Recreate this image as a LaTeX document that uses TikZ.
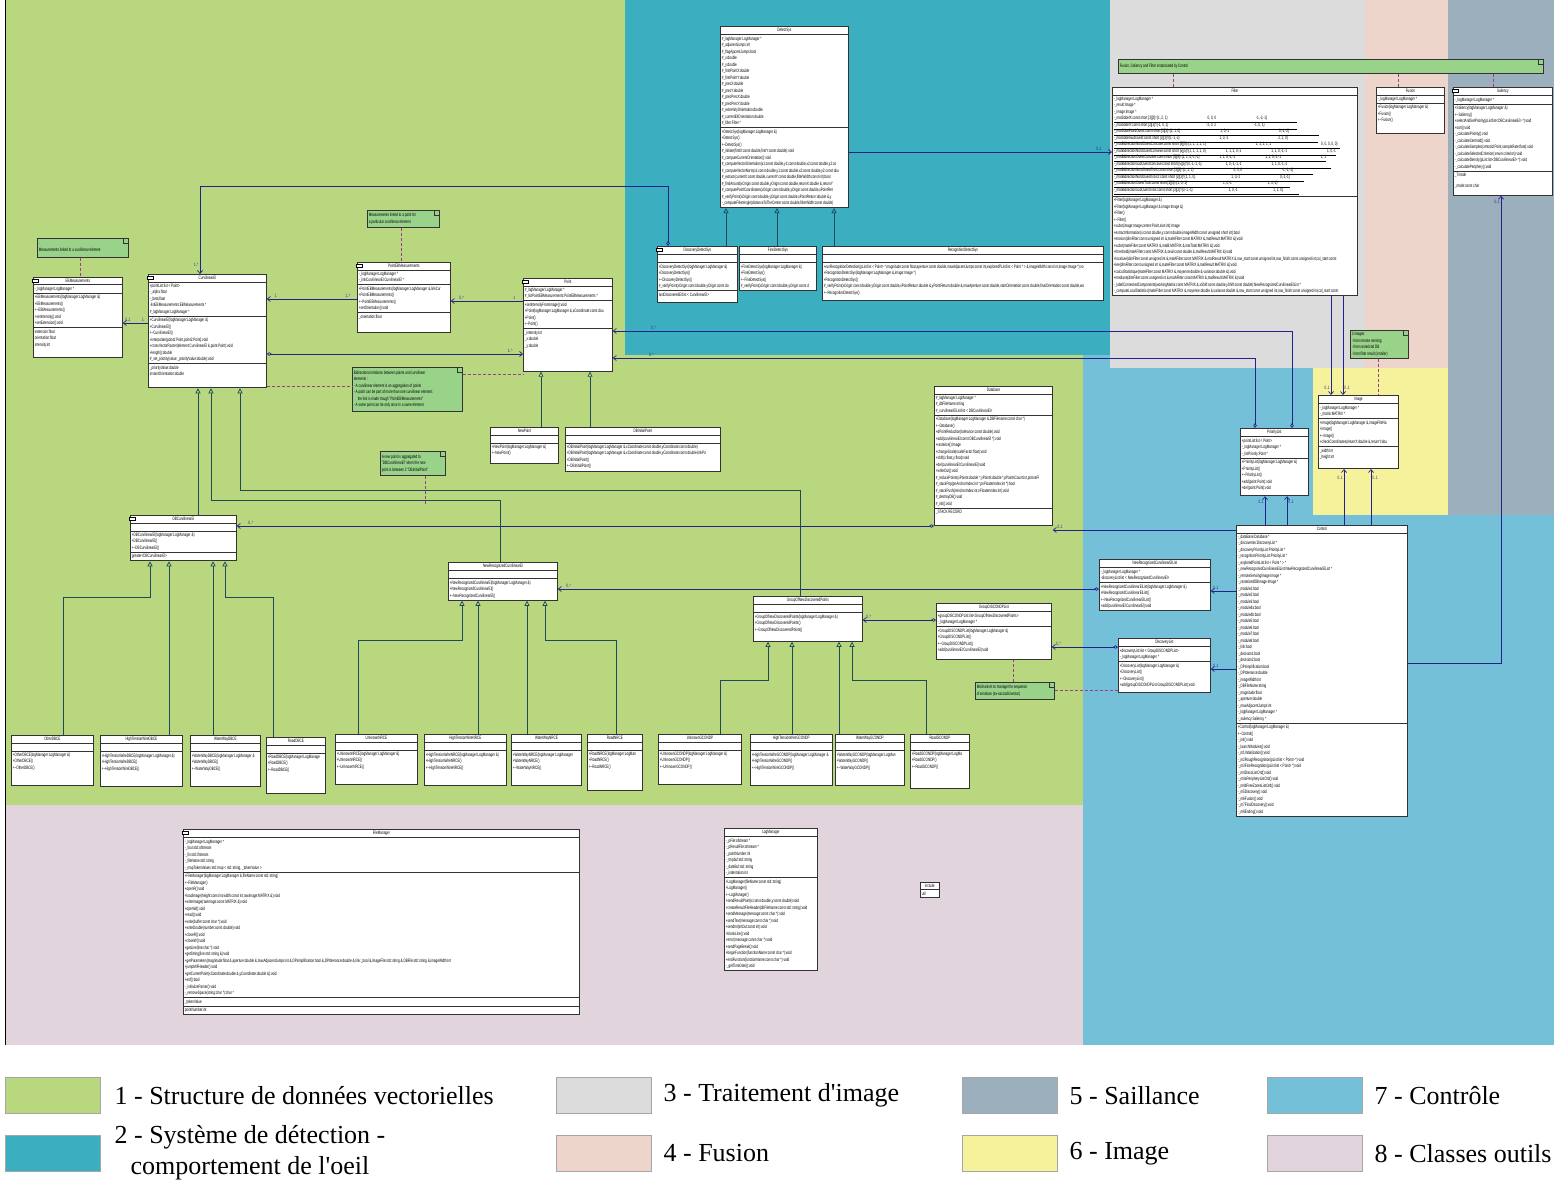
\documentclass[tikz,border=0pt]{standalone}
\usepackage{fontspec}
\setmainfont{Liberation Sans}
\newfontfamily\umlfont[FakeStretch=0.64]{Liberation Sans}
\newfontfamily\legendfont{Liberation Serif}
\usetikzlibrary{arrows.meta,positioning,shapes.multipart}

\definecolor{vecgreen}{HTML}{B9D77F}
\definecolor{detteal}{HTML}{3BAEC0}
\definecolor{imggrey}{HTML}{DCDCDC}
\definecolor{fuspink}{HTML}{EED5CB}
\definecolor{salslate}{HTML}{9BAFBC}
\definecolor{imgyellow}{HTML}{F6F29B}
\definecolor{ctrlblue}{HTML}{75C0D9}
\definecolor{toolmauve}{HTML}{E2D4DC}
\definecolor{notegreen}{HTML}{99D38A}
\definecolor{navy}{HTML}{22228C}
\definecolor{inhline}{HTML}{1E4A5A}
\definecolor{notelink}{HTML}{9E3D86}

\newcommand\umlsize{\umlfont\fontsize{4.8}{6.5}\selectfont}
\newcommand\dtor{\textasciitilde}
\newcommand\ctitle[2]{\makebox[#1][c]{#2}}
\newcommand\nline[2]{\makebox[#1][l]{#2}}

\begin{document}
\catcode`\_=12
\begin{tikzpicture}[x=1pt, y=-1pt,
    cls/.style    = {draw=black!80, fill=white, line width=0.8pt,
                     rectangle split, rectangle split parts=3,
                     rectangle split part align={center,left,left,left,left},
                     align=left, font=\umlsize, inner xsep=1.5pt, inner ysep=1.6pt,
                     anchor=north west},
    icn/.style    = {draw=black, fill=white, line width=0.9pt,
                     minimum width=6pt, minimum height=3.5pt, inner sep=0pt},
    note/.style   = {draw=black!80, fill=notegreen, line width=0.6pt, align=left,
                     font=\umlsize, anchor=north west, inner sep=1.5pt,
                     path picture={\draw[line width=0.5pt]
                       ([xshift=-5pt]path picture bounding box.north east) |-
                       ([yshift=-5pt]path picture bounding box.north east);}},
    assoc/.style  = {draw=navy, line width=0.7pt, -{Straight Barb[length=3pt,width=5pt]}},
    aggr/.style   = {draw=navy, line width=0.7pt,
                     {Diamond[open,length=5pt,width=3.5pt]}-{Straight Barb[length=3pt,width=5pt]}},
    inh/.style    = {draw=inhline, line width=0.7pt, -{Triangle[open,length=5pt,width=5pt]}},
    lnk/.style    = {draw=notelink, line width=0.8pt, dash pattern=on 3pt off 2pt},
    mult/.style   = {font=\umlsize, text=navy, inner sep=1pt},
    swatch/.style = {draw=gray!70, minimum width=95pt, minimum height=36pt,
                     anchor=north west, inner sep=0pt},
    lgd/.style    = {font=\legendfont\fontsize{26}{31}\selectfont, anchor=west, inner sep=0pt}
  ]
  \useasboundingbox (0,0) rectangle (1554,1188);

  %–––– package areas ––––
  \fill[vecgreen]  (5,0)    rectangle (1083,805);
  \fill[ctrlblue]  (1083,355) rectangle (1554,1045);
  \fill[detteal]   (625,0)  rectangle (1110,355);
  \fill[imggrey]   (1110,0) rectangle (1365,368);
  \fill[fuspink]   (1365,0) rectangle (1448,368);
  \fill[imgyellow] (1313,368) rectangle (1448,515);
  \fill[salslate]  (1448,0) rectangle (1554,515);
  \fill[toolmauve] (5,805)  rectangle (1083,1045);
  \draw[line width=1pt] (5,1045) -- (5,0);

  %–––– vector data structure ––––
  \node[cls, rectangle split parts=4] (EBMeasurements) at (33,277)
    {\ctitle{86pt}{EBMeasurements}
     \nodepart{two} -_logManager:LogManager *
     \nodepart{three} +EBMeasurements(logManager:LogManager \&)\\+EBMeasurements()\\+\dtor EBMeasurements()\\+setIntensity():void\\+setExtension():void
     \nodepart{four} extension:float\\orientation:float\\intensity:int\rule[-9pt]{0pt}{0pt}};

  \node[cls, rectangle split parts=4] (CurvilinearEl) at (148,274)
    {\ctitle{115pt}{CurvilinearEl}
     \nodepart{two} +pointList:list < Point>\\-_alpha:float\\-_beta:float\\-listEBMeasurements:EBMeasurements *\\\#_logManager:LogManager *
     \nodepart{three} +CurvilinearEl(logManager:LogManager \&)\\+CurvilinearEl()\\+\dtor CurvilinearEl()\\+interpolate(point1:Point,point2:Point):void\\+crossVectorRaster(element:CurvilinearEl \&,point:Point):void\\+length():double\\\#_set_priority(value:_priorityValue:double):void
     \nodepart{four} _priorityValue:double\\instantOrientation:double\rule[-10pt]{0pt}{0pt}};

  \node[cls, rectangle split parts=4] (PointEBMeasurements) at (357,262)
    {\ctitle{90pt}{PointEBMeasurements}
     \nodepart{two} -_logManager:LogManager *\\-_linkCurvilinearEl:CurvilinearEl *
     \nodepart{three} +PointEBMeasurements(logManager:LogManager \&,linkCur\\+PointEBMeasurements()\\+\dtor PointEBMeasurements()\\+setOrientation():void
     \nodepart{four} _orientation:float\rule[-12pt]{0pt}{0pt}};

  \node[cls, rectangle split parts=4] (Point) at (523,278)
    {\ctitle{86pt}{Point}
     \nodepart{two} \#_logManager:LogManager *\\\#_listPointEBMeasurements:PointEBMeasurements *
     \nodepart{three} +setIntensityFromImage():void\\+Point(logManager:LogManager \&,xCoordinate:const dou\\+Point()\\+\dtor Point()
     \nodepart{four} _intensity:int\\_x:double\\_y:double\rule[-22pt]{0pt}{0pt}};

  \node[cls] (NewPoint) at (490,427)
    {\ctitle{65pt}{NewPoint}
     \nodepart{two} \rule{0pt}{4pt}
     \nodepart{three} +NewPoint(logManager:LogManager \&)\\+\dtor NewPoint()\rule[-6pt]{0pt}{0pt}};

  \node[cls] (DBInitialPoint) at (565,427)
    {\ctitle{152pt}{DBInitialPoint}
     \nodepart{two} \rule{0pt}{4pt}
     \nodepart{three} +DBInitialPoint(logManager:LogManager \&,xCoordinate:const double,yCoordinate:const double)\\+DBInitialPoint(logManager:LogManager \&,xCoordinate:const double,yCoordinate:const double,linkPo\\+DBInitialPoint()\\+\dtor DBInitialPoint()};

  \node[cls, rectangle split parts=4] (DBCurvilinearEl) at (130,515)
    {\ctitle{103pt}{DBCurvilinearEl}
     \nodepart{two} \rule{0pt}{4pt}
     \nodepart{three} +DBCurvilinearEl(logManager:LogManager \&)\\+DBCurvilinearEl()\\+\dtor DBCurvilinearEl()
     \nodepart{four} greater<DBCurvilinearEl>};

  \node[cls] (NewRecognizedCurvilinearEl) at (448,562)
    {\ctitle{106pt}{NewRecognizedCurvilinearEl}
     \nodepart{two} \rule{0pt}{4pt}
     \nodepart{three} +NewRecognizedCurvilinearEl(logManager:LogManager \&)\\+NewRecognizedCurvilinearEl()\\+\dtor NewRecognizedCurvilinearEl()};

  \node[cls] (GroupOfNewDiscoveredPoints) at (753,596)
    {\ctitle{106pt}{GroupOfNewDiscoveredPoints}
     \nodepart{two} \rule{0pt}{4pt}
     \nodepart{three} +GroupOfNewDiscoveredPoints(logManager:LogManager \&)\\+GroupOfNewDiscoveredPoints()\\+\dtor GroupOfNewDiscoveredPoints()\rule[-8pt]{0pt}{0pt}};

  \node[cls, rectangle split parts=4] (Database) at (934,386)
    {\ctitle{115pt}{Database}
     \nodepart{two} \#_logManager:LogManager *\\\#_dbFileName:string\\\#_curvilinearElList:list < DBCurvilinearEl>
     \nodepart{three} +Database(logManager:LogManager \&,DBFilename:const char *)\\+\dtor Database()\\+dPointReduction(tolerance:const double):void\\+add(curvilinearEl:const DBCurvilinearEl *):void\\+rasterize():Image\\+changeScale(scaleFactor:float):void\\+shift(x:float,y:float):void\\+del(curvilinearEl:CurvilinearEl):void\\+writeOut():void\\\#_reducePoints(xPoints:double *,yPoints:double *,pPointsCount:int,pnUseFl\\\#_stackPop(pnAnchorIndex:int *,pnFloaterIndex:int *):bool\\\#_stackPush(nAnchorIndex:int,nFloaterIndex:int):void\\\#_destroyDB():void\\\#_init():void
     \nodepart{four} _STACK RECORD\rule[-10pt]{0pt}{0pt}};

  \node[cls] (GroupDISCONDPList) at (936,603)
    {\ctitle{112pt}{GroupDISCONDPList}
     \nodepart{two} +groupDISCONDPList:list<GroupOfNewDiscoveredPoints>\\-_logManager:LogManager *
     \nodepart{three} +GroupDISCONDPList(logManager:LogManager \&)\\+GroupDISCONDPList()\\+\dtor GroupDISCONDPList()\\+add(curvilinearEl:CurvilinearEl):void\rule[-6pt]{0pt}{0pt}};

  % leaf classes
  \node[cls] (OtherDBCE) at (11,735)
    {\ctitle{79pt}{OtherDBCE}\nodepart{two}\rule{0pt}{4pt}
     \nodepart{three} +OtherDBCE(logManager:LogManager \&)\\+OtherDBCE()\\+\dtor OtherDBCE()\rule[-14pt]{0pt}{0pt}};
  \node[cls] (HighTensionWireDBCE) at (100,735)
    {\ctitle{79pt}{HighTensionWireDBCE}\nodepart{two}\rule{0pt}{4pt}
     \nodepart{three} +HighTensionWireDBCE(logManager:LogManager \&)\\+HighTensionWireDBCE()\\+\dtor HighTensionWireDBCE()\rule[-14pt]{0pt}{0pt}};
  \node[cls] (WaterWayDBCE) at (190,735)
    {\ctitle{67pt}{WaterWayDBCE}\nodepart{two}\rule{0pt}{4pt}
     \nodepart{three} +WaterWayDBCE(logManager:LogManager \&\\+WaterWayDBCE()\\+\dtor WaterWayDBCE()\rule[-14pt]{0pt}{0pt}};
  \node[cls] (RoadDBCE) at (266,737)
    {\ctitle{56pt}{RoadDBCE}\nodepart{two}\rule{0pt}{4pt}
     \nodepart{three} +RoadDBCE(logManager:LogManage\\+RoadDBCE()\\+\dtor RoadDBCE()\rule[-20pt]{0pt}{0pt}};
  \node[cls] (UnknownNRCE) at (335,734)
    {\ctitle{79pt}{UnknownNRCE}\nodepart{two}\rule{0pt}{4pt}
     \nodepart{three} +UnknownNRCE(logManager:LogManager \&)\\+UnknownNRCE()\\+\dtor UnknownNRCE()\rule[-14pt]{0pt}{0pt}};
  \node[cls] (HighTensionWireNRCE) at (424,734)
    {\ctitle{79pt}{HighTensionWireNRCE}\nodepart{two}\rule{0pt}{4pt}
     \nodepart{three} +HighTensionWireNRCE(logManager:LogManager \&)\\+HighTensionWireNRCE()\\+\dtor HighTensionWireNRCE()\rule[-14pt]{0pt}{0pt}};
  \node[cls] (WaterWayNRCE) at (511,734)
    {\ctitle{67pt}{WaterWayNRCE}\nodepart{two}\rule{0pt}{4pt}
     \nodepart{three} +WaterWayNRCE(logManager:LogManager\\+WaterWayNRCE()\\+\dtor WaterWayNRCE()\rule[-14pt]{0pt}{0pt}};
  \node[cls] (RoadNRCE) at (587,734)
    {\ctitle{52pt}{RoadNRCE}\nodepart{two}\rule{0pt}{4pt}
     \nodepart{three} +RoadNRCE(logManager:LogMan\\+RoadNRCE()\\+\dtor RoadNRCE()\rule[-20pt]{0pt}{0pt}};
  \node[cls] (UnknownGCONDP) at (658,734)
    {\ctitle{80pt}{UnknownGCONDP}\nodepart{two}\rule{0pt}{4pt}
     \nodepart{three} +UnknownGCONDP(logManager:LogManager \&)\\+UnknownGCONDP()\\+\dtor UnknownGCONDP()\rule[-14pt]{0pt}{0pt}};
  \node[cls] (HighTensionWireGCONDP) at (750,734)
    {\ctitle{79pt}{HighTensionWireGCONDP}\nodepart{two}\rule{0pt}{4pt}
     \nodepart{three} +HighTensionWireGCONDP(logManager:LogManager \&\\+HighTensionWireGCONDP()\\+\dtor HighTensionWireGCONDP()\rule[-14pt]{0pt}{0pt}};
  \node[cls] (WaterWayGCONDP) at (835,734)
    {\ctitle{66pt}{WaterWayGCONDP}\nodepart{two}\rule{0pt}{4pt}
     \nodepart{three} +WaterWayGCONDP(logManager:LogMan\\+WaterWayGCONDP()\\+\dtor WaterWayGCONDP()\rule[-14pt]{0pt}{0pt}};
  \node[cls] (RoadGCONDP) at (910,734)
    {\ctitle{56pt}{RoadGCONDP}\nodepart{two}\rule{0pt}{4pt}
     \nodepart{three} +RoadGCONDP(logManager:LogMa\\+RoadGCONDP()\\+\dtor RoadGCONDP()\rule[-18pt]{0pt}{0pt}};

  % class icons
  \foreach \c in {EBMeasurements,CurvilinearEl,PointEBMeasurements,Point,DBCurvilinearEl}
    \node[icn, shift={(2,4)}] (\c icon) at (\c.north west) {};

  %–––– detection system ––––
  \node[cls] (DetectSys) at (720,26)
    {\ctitle{125pt}{DetectSys}
     \nodepart{two} \#_logManager:LogManager *\\\#_adjacentJumps:int\\\#_flagAjacentJumps:bool\\\#_x:double\\\#_y:double\\\#_firstPointX:double\\\#_firstPointY:double\\\#_precX:double\\\#_precY:double\\\#_precPrecX:double\\\#_precPrecY:double\\\#_extremityOrientation:double\\\#_currentEltOrientation:double\\\#_filter:Filter *
     \nodepart{three} \fontsize{4.8}{5.3}\selectfont +DetectSys(logManager:LogManager \&)\\+DetectSys()\\+\dtor DetectSys()\\\#_initiate(firstX:const double,firstY:const double):void\\\#_computeCurrentOrientation():void\\\#_computeVectorOrientation(x1:const double,y1:const double,x2:const double,y2:co\\\#_computeVectorNorm(x1:const double,y1:const double,x2:const double,y2:const dou\\\#_extract(currentX:const double,currentY:const double,filterWidth:const int):bool\\\#_findAround(xOrigin:const double,yOrigin:const double,returnX:double \&,returnY\\\#_computePointCoordinates(xOrigin:const double,yOrigin:const double,xPointRet\\\#_verifyPoint(xOrigin:const double,yOrigin:const double,xPointReturn:double \&,y\\-_computeFilterAngle(distanceToTheCenter:const double,filterWidth:const double)};

  \node[cls, rectangle split parts=4] (DiscoveryDetectSys) at (657,246)
    {\ctitle{77pt}{DiscoveryDetectSys}
     \nodepart{two} \rule{0pt}{4pt}
     \nodepart{three} +DiscoveryDetectSys(logManager:LogManager \&)\\+DiscoveryDetectSys()\\+\dtor DiscoveryDetectSys()\\\#_verifyPoint(xOrigin:const double,yOrigin:const do
     \nodepart{four} lastDiscoveredEl:list < CurvilinearEl>\rule[-4pt]{0pt}{0pt}};
  \node[icn, shift={(2,4)}] (DiscoveryDetectSysicon) at (DiscoveryDetectSys.north west) {};

  \node[cls] (FineDetectSys) at (739,246)
    {\ctitle{74pt}{FineDetectSys}
     \nodepart{two} \rule{0pt}{4pt}
     \nodepart{three} +FineDetectSys(logManager:LogManager \&)\\+FineDetectSys()\\+\dtor FineDetectSys()\\\#_verifyPoint(xOrigin:const double,yOrigin:const d};

  \node[cls] (RecognitionDetectSys) at (822,246)
    {\ctitle{278pt}{RecognitionDetectSys}
     \nodepart{two} \rule{0pt}{4pt}
     \nodepart{three} +runRecognitionDetection(pList:list < Point> *,magnitude:const float,aperture:const double,maxAdjacentJumps:const int,exploredPList:list < Point * > \&,imageWidth:const int,image:Image *):vo\\+RecognitionDetectSys(logManager:LogManager \&,image:Image *)\\+RecognitionDetectSys()\\\#_verifyPoint(xOrigin:const double,yOrigin:const double,xPointReturn:double \&,yPointReturn:double \&,maxAperture:const double,startOrientation:const double,finalOrientation:const double,wo\\+\dtor RecognitionDetectSys()\rule[-4pt]{0pt}{0pt}};

  %–––– image processing, fusion, saliency ––––
  \node[note, minimum height=14pt] (ctrlnote) at (1118,59)
    {\nline{422pt}{Fusion, Saliency and Filter instanciated by Control}};

  \node[cls] (Filter) at (1112,87)
    {\ctitle{242pt}{Filter}
     \nodepart{two} -_logManager:LogManager *\\-_result:Image *\\-_image:Image *\\
       \underline{-_matSobelX:const short [3][3]=\{1, 2, 1\}\hspace{40pt}0, 0, 0\hspace{40pt}-1,-2,-1\}\hspace{30pt}}\\
       \underline{-_matSobelY:const short [3][3]=\{-1, 0, 1\}\hspace{38pt}-2, 0, 2\hspace{38pt}-1, 0, 1\}\hspace{32pt}}\\
       \underline{-_matSobelNordOuest:const short [3][3]=\{2, 1, 0\}\hspace{40pt}1, 0,-1\hspace{50pt}0,-1,-2\}\hspace{30pt}}\\
       \underline{-_matSobelSudOuest:const short [3][3]=\{0,-1,-2\}\hspace{40pt}1, 0,-1\hspace{50pt}2, 1, 0\}\hspace{30pt}}\\
       \underline{-_matBidirectionNordOuestConcave:const short [5][5]=\{1, 1, 1, 1, 1\}\hspace{50pt}1, 1, 1, 1, 1\hspace{50pt}0, 0, 0, 0, 0\}\hspace{2pt}}\\
       \underline{-_matBidirectionNordOuestConvexe:const short [5][5]=\{1, 1, 1, 1, 0\}\hspace{20pt}1, 1, 1, 0,-1\hspace{30pt}1, 1, 0,-1,-1\hspace{40pt}1, 0,-1}\\
       \underline{-_matBidirectionOuestConcave:const short [5][5]=\{1, 1, 0,-1,-1\}\hspace{20pt}1, 1, 0,-1,-1\hspace{30pt}1, 1, 0,-1,-1\hspace{40pt}1, 1}\\
       \underline{-_matBidirectionSudOuestConcave:const short [5][5]=\{0,-1,-1,-1\}\hspace{24pt}1, 0,-1,-1,-1\hspace{30pt}1, 1, 0,-1,-1\hspace{44pt}}\\
       \underline{-_matBidirectionNordOuestTrois:const short [3][3]=\{1, 1, 1\}\hspace{40pt}0, 0, 0\hspace{40pt}-1,-1,-1\}\hspace{20pt}}\\
       \underline{-_matBidirectionNordOuestTrois2:const short [3][3]=\{1, 1, 0\}\hspace{36pt}1, 0,-1\hspace{40pt}0,-1,-1\}\hspace{14pt}}\\
       \underline{-_matBidirectionOuestTrois:const short [3][3]=\{1, 0,-1\}\hspace{36pt}1, 0,-1\hspace{36pt}1, 0,-1\}\hspace{12pt}}\\
       \underline{-_matBidirectionSudOuestTrois:const short [3][3]=\{0,-1,-1\}\hspace{36pt}1, 0,-1\hspace{36pt}1, 1, 0\}\hspace{16pt}}
     \nodepart{three} +Filter(logManager:LogManager \&)\\+Filter(logManager:LogManager \&,image:Image \&)\\+Filter()\\+\dtor Filter()\\+subst(image:Image,centre:Point,size:int):Image\\+extractInformation(x:const double,y:const double,imageWidth:const unsigned short int):bool\\+erosion(dimFilter:const unsigned int \&,matAFilter:const MATRIX \&,matResult:MATRIX \&):void\\+subst(matAFilter:const MATRIX \&,matB:MATRIX \&,matTotal:MATRIX \&):void\\+threshold(matAFilter:const MATRIX \&,seuil:const double \&,matResult:MATRIX \&):void\\+localLee(dimFilter:const unsigned int \&,matAFilter:const MATRIX \&,matResult:MATRIX \&,row_start:const unsigned int,row_finish:const unsigned int,col_start:const\\+lee(dimFilter:const unsigned int \&,matAFilter:const MATRIX \&,matResult:MATRIX \&):void\\+calculStatistique(matAFilter:const MATRIX \&,moyenne:double \&,variance:double \&):void\\+mediane(dimFilter:const unsigned int \&,matAFilter:const MATRIX \&,matResult:MATRIX \&):void\\-_labelConnectedComponents(workingMatrix:const MATRIX \&,xShift:const double,yShift:const double):NewRecognizedCurvilinearElList *\\-_computeLocalStatistics(matAFilter:const MATRIX \&,moyenne:double \&,variance:double \&,row_start:const unsigned int,row_finish:const unsigned int,col_start:const};

  \node[cls] (Fusion) at (1376,87)
    {\ctitle{65pt}{Fusion}
     \nodepart{two} -_logManager:LogManager *
     \nodepart{three} +Fusion(logManager:LogManager \&)\\+Fusion()\\+\dtor Fusion()\rule[-10pt]{0pt}{0pt}};

  \node[cls, rectangle split parts=4] (Saliency) at (1453,87)
    {\ctitle{96pt}{Saliency}
     \nodepart{two} -_logManager:LogManager *
     \nodepart{three} +Saliency(logManager:LogManager \&)\\+\dtor Saliency()\\+selectAndSetPriority(pList:list<DBCurvilinearEl> *):void\\+sort():void\\-_calculatePriority():void\\-_calculateCentroid():void\\-_calculateSamples(centroid:Point,sampleRate:float):void\\-_calculateSelectedCriterion(:enum criterion):void\\-_calculateDensity(pList:list<DBCurvilinearEl> *):void\\-_calculatePeriphery():void
     \nodepart{four} _Tmode\\[4pt]_mode:const char\rule[-6pt]{0pt}{0pt}};
  \node[icn, shift={(2,4)}] (Saliencyicon) at (Saliency.north west) {};

  %–––– image ––––
  \node[note, minimum height=28pt] (imgnote) at (1350,330)
    {\nline{55pt}{3 images:}\\- from remote sensing\\- from rasterized DB\\- from filter result (smaller)};

  \node[cls, rectangle split parts=4] (Image) at (1318,395)
    {\ctitle{77pt}{Image}
     \nodepart{two} -_logManager:LogManager *\\-_matrix:MATRIX *
     \nodepart{three} +Image(logManager:LogManager \&,imageFileNa\\+Image()\\+\dtor Image()\\+checkCoordinates(returnX:double \&,returnY:dou
     \nodepart{four} _width:int\\_height:int\rule[-8pt]{0pt}{0pt}};

  %–––– control ––––
  \node[cls] (PriorityList) at (1240,428)
    {\ctitle{65pt}{PriorityList}
     \nodepart{two} +pointList:list < Point>\\-_logManager:LogManager *\\-_listPriority:Point *
     \nodepart{three} +PriorityList(logManager:LogManager \&)\\+PriorityList()\\+\dtor PriorityList()\\+add(point:Point):void\\+del(point:Point):void\rule[-4pt]{0pt}{0pt}};

  \node[cls] (NewRecognizedCurvilinearElList) at (1099,559)
    {\ctitle{108pt}{NewRecognizedCurvilinearElList}
     \nodepart{two} -_logManager:LogManager *\\-discoveryList:list < NewRecognizedCurvilinearEl>
     \nodepart{three} +NewRecognizedCurvilinearElList(logManager:LogManager \&)\\+NewRecognizedCurvilinearElList()\\+\dtor NewRecognizedCurvilinearElList()\\+add(curvilinearEl:CurvilinearEl):void};

  \node[cls] (DiscoveryList) at (1118,638)
    {\ctitle{89pt}{DiscoveryList}
     \nodepart{two} +discoveryList:list < GroupDISCONDPList>\\-_logManager:LogManager *
     \nodepart{three} +DiscoveryList(logManager:LogManager \&)\\+DiscoveryList()\\+\dtor DiscoveryList()\\+add(groupDISCONDPList:GroupDISCONDPList):void\rule[-4pt]{0pt}{0pt}};

  \node[note, minimum height=17pt] (seqnote) at (975,682)
    {\nline{76pt}{Mechanism to manage the sequence}\\of windows (ex-saccadic/vector)};

  \node[cls] (Control) at (1236,525)
    {\ctitle{168pt}{Control}
     \nodepart{two} -_dataBase:Database *\\-_discoveries:DiscoveryList *\\-_discoveryPriorityList:PriorityList *\\-_recognitionPriorityList:PriorityList *\\-_exploredPointList:list < Point * > *\\-_newRecognizedCurvilinearElList:NewRecognizedCurvilinearElList *\\-_remoteSensingImage:Image *\\-_rasterizedDBImage:Image *\\-_module1:bool\\-_module2:bool\\-_module3:bool\\-_module4a:bool\\-_module4b:bool\\-_module5:bool\\-_module6:bool\\-_module7:bool\\-_module8:bool\\-_link:bool\\-_decision1:bool\\-_decision2:bool\\-_DPsimplification:bool\\-_DPtolerance:double\\-_imageWidth:int\\-_DBFileName:string\\-_magnitude:float\\-_aperture:double\\-_maxAdjacentJumps:int\\-_logManager:LogManager *\\-_saliency:Saliency *
     \nodepart{three} +Control(logManager:LogManager \&)\\+\dtor Control()\\-_init():void\\-_launchModules():void\\-_m1Initialization():void\\-_m2RoughRecognition(pList:list < Point> *):void\\-_m3FineRecognition(pList:list < Point> *):void\\-_m4DiscoListOrd():void\\-_m4aPeripheryListOrd():void\\-_m4bFreeZonesListOrd():void\\-_m5Discovery():void\\-_m6Fusion():void\\-_m7FinalDiscovery():void\\-_m8Ending():void};

  %–––– tool classes ––––
  \node[cls, rectangle split parts=5] (FileManager) at (183,829)
    {\ctitle{393pt}{FileManager}
     \nodepart{two} -_logManager:LogManager *\\-_fout:std::ofstream\\-_fin:std::ifstream\\-_fileName:std::string\\-_mapTokenValues:std::map < std::string, _tokenValue >
     \nodepart{three} +FileManager(logManager:LogManager \&,fileName:const std::string)\\+\dtor FileManager()\\+openR():void\\+loadImage(height:const int,width:const int,rawImage:MATRIX \&):void\\+writeImage(rawImage:const MATRIX \&):void\\+openW():void\\+read():void\\+write(buffer:const char *):void\\+writeDouble(number:const double):void\\+closeR():void\\+closeW():void\\+getLine(line:char *):void\\+getString(line:std::string \&):void\\+getParameters(magnitude:float \&,aperture:double \&,maxAdjacentJumps:int \&,DPsimplification:bool \&,DPtolerance:double \&,link:_bool \&,imageFile:std::string \&,DBFile:std::string \&,imageWidth:int\\+jumpMIFHeader():void\\+getCurrentPoint(xCoordinate:double \&,yCoordinate:double \&):void\\+eof():bool\\-_initializeParser():void\\-_removeSpace(string:char *):char *
     \nodepart{four} _tokenValue
     \nodepart{five} pointNumber:int};
  \node[icn, shift={(2,4)}] (FileManagericon) at (FileManager.north west) {};

  \node[cls] (LogManager) at (724,828)
    {\ctitle{90pt}{LogManager}
     \nodepart{two} -_pFile:ofstream *\\-_pResultFile:ofstream *\\-_pointNumber:int\\-_tmpbuf:std::string\\-_dateBuf:std::string\\-_indentation:int
     \nodepart{three} +LogManager(fileName:const std::string)\\+LogManager()\\+\dtor LogManager()\\+sendResultPoint(x:const double,y:const double):void\\+createResultFileHeader(dbFileName:const std::string):void\\+sendMessage(message:const char *):void\\+sendText(message:const char *):void\\+sendInt(intOut:const int):void\\+blankLine():void\\+error(message:const char *):void\\+sendPageBreak():void\\+beginFunction(functionName:const char *):void\\+endFunction(functionName:const char *):void\\-_getTimeDate():void};

  \node[cls, rectangle split parts=2, line width=0.6pt] (utilpkg) at (920,882)
    {\ctitle{16pt}{include}\nodepart{two}util};

  %–––– notes ––––
  \node[note, minimum height=19pt] (ebnote) at (37,238)
    {\nline{88pt}{.}\\Measurements linked to a curvilinear element};
  \node[note, minimum height=17pt] (ptnote) at (367,210)
    {\nline{69pt}{Measurements linked to a point for}\\a particular curvilinear element};
  \node[note, minimum height=44pt] (binote) at (352,367)
    {\nline{107pt}{Bidirectional relations between points and curvilinear}\\elements :\\- A curvilinear element is an aggregation of points\\- A point can be part of more than one curvilinear element:\\\hspace*{4pt}the link is made trough "PointEBMeasurements"\\- A same point can be only once in a same element};
  \node[note, minimum height=24pt] (newptnote) at (380,451)
    {\nline{62pt}{A new point is aggregated to}\\"DBCurvilinearEl" when the new\\point is between 2 "DBInitialPoint"};

  \draw[lnk] (ebnote.south -| 80,0) -- (EBMeasurements.north -| 80,0);
  \draw[lnk] (ptnote.south -| 401,0) -- (PointEBMeasurements.north -| 401,0);
  \draw[lnk] (CurvilinearEl.east |- 0,386) -- (binote.west |- 0,386);
  \draw[lnk] (binote.east |- 0,374) -- (Point.west |- 0,374);
  \draw[lnk] (newptnote.south -| 425,0) -- (425,505);
  \draw[lnk] (ctrlnote.south -| 1173,0) -- (Filter.north -| 1173,0);
  \draw[lnk] (ctrlnote.south -| 1398,0) -- (Fusion.north -| 1398,0);
  \draw[lnk] (ctrlnote.south -| 1493,0) -- (Saliency.north -| 1493,0);
  \draw[lnk] (imgnote.south -| 1378,0) -- (Image.north -| 1378,0);
  \draw[lnk] (seqnote.north -| 1013,0) -- (GroupDISCONDPList.south -| 1013,0);
  \draw[lnk] (seqnote.east |- 0,690) -- (DiscoveryList.west |- 0,690);

  %–––– associations ––––
  \draw[assoc] (CurvilinearEl.west |- 0,323) --
      node[mult, pos=0.2, above] (mA1) {1} node[mult, pos=0.8, above] (mA2) {0..1}
      (EBMeasurements.east |- 0,323);
  \draw[assoc] (PointEBMeasurements.west |- 0,299) --
      node[mult, pos=0.1, above] (mB1) {1..*} node[mult, pos=0.9, above] (mB2) {1}
      (CurvilinearEl.east |- 0,299);
  \draw[assoc] (Point.west |- 0,301) --
      node[mult, pos=0.12, above] (mC1) {1} node[mult, pos=0.85, above] (mC2) {0..*}
      (PointEBMeasurements.east |- 0,301);
  \draw[aggr] (CurvilinearEl.east |- 0,354) --
      node[mult, pos=0.95, above] (mD1) {1..*} (Point.west |- 0,354);
  \draw[aggr] (DiscoveryDetectSys.north -| 668,0) |- (200,186) --
      node[mult, pos=0.9, left] (mE1) {1..*} (CurvilinearEl.north -| 200,0);
  \draw[assoc] (DetectSys.east |- 0,152) --
      node[mult, pos=0.95, above] (mF1) {0..1} (Filter.west |- 0,152);
  \draw[aggr] (PriorityList.north -| 1292,0) |-
      node[mult, pos=0.97, above] (mG1) {0..*} (Point.east |- 0,331);
  \draw[aggr] (PriorityList.north -| 1255,0) |-
      node[mult, pos=0.97, above] (mG2) {0..*} (Point.east |- 0,358);
  \draw[assoc] (Filter.south -| 1331,0) --
      node[mult, pos=0.93, left] (mH1) {0..1} (Image.north -| 1331,0);
  \draw[assoc] (Filter.south -| 1343,0) --
      node[mult, pos=0.93, right] (mH2) {0..1} (Image.north -| 1343,0);
  \draw[assoc] (Control.north -| 1265,0) --
      node[mult, pos=0.8, left] (mI1) {0..1} (PriorityList.south -| 1265,0);
  \draw[assoc] (Control.north -| 1287,0) --
      node[mult, pos=0.8, right] (mI2) {0..1} (PriorityList.south -| 1287,0);
  \draw[assoc] (Control.north -| 1344,0) --
      node[mult, pos=0.85, left] (mI3) {0..1} (Image.south -| 1344,0);
  \draw[assoc] (Control.north -| 1371,0) --
      node[mult, pos=0.85, right] (mI4) {0..1} (Image.south -| 1371,0);
  \draw[assoc] (Control.east |- 0,663) -| (1501,400) --
      node[mult, pos=0.97, left] (mJ1) {0..1} (Saliency.south -| 1501,0);
  \draw[assoc] (Control.west |- 0,530) --
      node[mult, pos=0.96, above] (mK1) {0..1} (Database.east |- 0,530);
  \draw[assoc] (Control.west |- 0,591) --
      node[mult, pos=0.8, above] (mK2) {0..1} (NewRecognizedCurvilinearElList.east |- 0,591);
  \draw[assoc] (Control.west |- 0,669) --
      node[mult, pos=0.8, above] (mK3) {0..1} (DiscoveryList.east |- 0,669);
  \draw[aggr] (DiscoveryList.west |- 0,647) --
      node[mult, pos=0.9, above] (mL1) {0..*} (GroupDISCONDPList.east |- 0,647);
  \draw[aggr] (GroupDISCONDPList.west |- 0,620) --
      node[mult, pos=0.92, above] (mL2) {0..*} (GroupOfNewDiscoveredPoints.east |- 0,620);
  \draw[aggr] (NewRecognizedCurvilinearElList.west |- 0,589) --
      node[mult, pos=0.98, above] (mL3) {0..*} (NewRecognizedCurvilinearEl.east |- 0,589);
  \draw[aggr] (Database.west |- 0,526) --
      node[mult, pos=0.98, above] (mL4) {0..*} (DBCurvilinearEl.east |- 0,526);

  %–––– inheritance ––––
  \draw[inh] (NewPoint.north -| 541,0) -- (Point.south -| 541,0);
  \draw[inh] (DBInitialPoint.north -| 590,0) -- (Point.south -| 590,0);
  \draw[inh] (DiscoveryDetectSys.north -| 726,0) -- (DetectSys.south -| 726,0);
  \draw[inh] (FineDetectSys.north -| 777,0) -- (DetectSys.south -| 777,0);
  \draw[inh] (RecognitionDetectSys.north -| 834,0) -- (DetectSys.south -| 834,0);

  \draw[inh] (DBCurvilinearEl.north -| 198,0) -- (CurvilinearEl.south -| 198,0);
  \draw[inh] (NewRecognizedCurvilinearEl.north -| 500,0) |- (211,500) -- (CurvilinearEl.south -| 211,0);
  \draw[inh] (GroupOfNewDiscoveredPoints.north -| 800,0) |- (240,490) -- (CurvilinearEl.south -| 240,0);

  \draw[inh] (OtherDBCE.north -| 63,0) |- (150,597) -- (DBCurvilinearEl.south -| 150,0);
  \draw[inh] (HighTensionWireDBCE.north -| 169,0) -- (DBCurvilinearEl.south -| 169,0);
  \draw[inh] (WaterWayDBCE.north -| 213,0) -- (DBCurvilinearEl.south -| 213,0);
  \draw[inh] (RoadDBCE.north -| 273,0) |- (225,597) -- (DBCurvilinearEl.south -| 225,0);

  \draw[inh] (UnknownNRCE.north -| 358,0) |- (462,640) -- (NewRecognizedCurvilinearEl.south -| 462,0);
  \draw[inh] (HighTensionWireNRCE.north -| 478,0) -- (NewRecognizedCurvilinearEl.south -| 478,0);
  \draw[inh] (WaterWayNRCE.north -| 527,0) -- (NewRecognizedCurvilinearEl.south -| 527,0);
  \draw[inh] (RoadNRCE.north -| 616,0) |- (545,640) -- (NewRecognizedCurvilinearEl.south -| 545,0);

  \draw[inh] (UnknownGCONDP.north -| 720,0) |- (768,680) -- (GroupOfNewDiscoveredPoints.south -| 768,0);
  \draw[inh] (HighTensionWireGCONDP.north -| 792,0) -- (GroupOfNewDiscoveredPoints.south -| 792,0);
  \draw[inh] (WaterWayGCONDP.north -| 839,0) -- (GroupOfNewDiscoveredPoints.south -| 839,0);
  \draw[inh] (RoadGCONDP.north -| 926,0) |- (852,680) -- (GroupOfNewDiscoveredPoints.south -| 852,0);

  %–––– legend ––––
  \node[swatch, fill=vecgreen]  (sw1) at (5,1077)    {};
  \node[swatch, fill=detteal]   (sw2) at (5,1135)    {};
  \node[swatch, fill=imggrey]   (sw3) at (556,1077)  {};
  \node[swatch, fill=fuspink]   (sw4) at (556,1135)  {};
  \node[swatch, fill=salslate]  (sw5) at (962,1077)  {};
  \node[swatch, fill=imgyellow] (sw6) at (962,1135)  {};
  \node[swatch, fill=ctrlblue]  (sw7) at (1267,1077) {};
  \node[swatch, fill=toolmauve] (sw8) at (1267,1135) {};

  \node[lgd, right=14pt of sw1] (lg1) {1 - Structure de données vectorielles};
  \node[lgd, right=14pt of sw2, align=center] (lg2) {2 - Système de détection -\\comportement de l'oeil};
  \node[lgd, right=12pt of sw3] (lg3) {3 - Traitement d'image};
  \node[lgd, right=12pt of sw4] (lg4) {4 - Fusion};
  \node[lgd, right=12pt of sw5] (lg5) {5 - Saillance};
  \node[lgd, right=12pt of sw6] (lg6) {6 - Image};
  \node[lgd, right=12pt of sw7] (lg7) {7 - Contrôle};
  \node[lgd, right=12pt of sw8] (lg8) {8 - Classes outils};
\end{tikzpicture}
\end{document}
